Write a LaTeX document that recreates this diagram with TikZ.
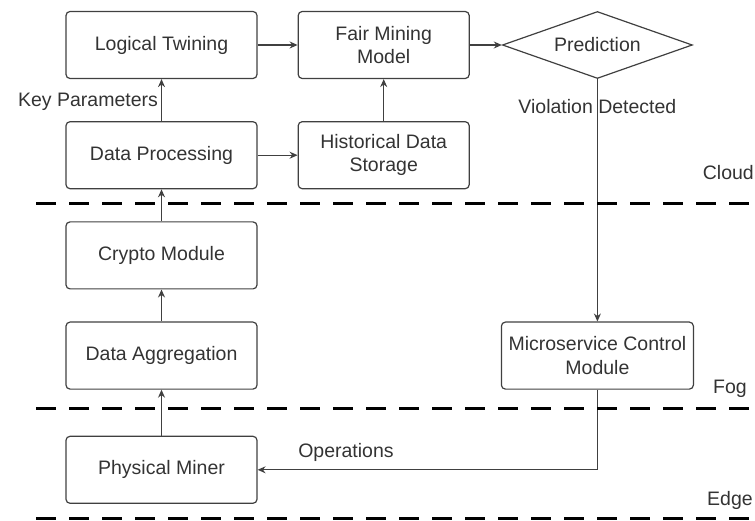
\documentclass[tikz,border=0pt]{standalone}
\usepackage{fontspec}
\setmainfont{Liberation Sans}
\usetikzlibrary{arrows.meta,positioning,shapes.geometric}

\begin{document}
\begin{tikzpicture}[
      x=1pt, y=1pt,
      font=\fontsize{19.5}{23.5}\selectfont,
      text=black!80,
      box/.style={draw=black!75, line width=1.2pt, rounded corners=4pt, align=center, inner sep=2pt, minimum height=67pt, minimum width=191pt},
      midbox/.style={box, minimum width=171pt},
      decision/.style={draw=black!75, line width=1.2pt, diamond, aspect=2.836, inner sep=0pt, minimum width=190pt, minimum height=67pt},
      arrow/.style={-{Stealth[length=8pt,width=7pt]}, draw=black!75, line width=1.2pt},
      layer/.style={line width=3pt, dash pattern=on 20pt off 13pt}
    ]
    \useasboundingbox (0,0) rectangle (755,-521);
    % cloud
    \node[box] (logic) at (161.5,-45) {Logical Twining};
    \node[box, below=42pt of logic] (proc) {Data Processing};
    \node[midbox, right=40pt of logic] (fair) {Fair Mining\\Model};
    \node[midbox, right=40pt of proc] (hist) {Historical Data\\Storage};
    \node[decision, right=32pt of fair] (pred) {Prediction};
    % fog
    \node[box, below=32pt of proc] (crypto) {Crypto Module};
    \node[box, below=32pt of crypto] (aggr) {Data Aggregation};
    \node[box, minimum width=192pt] (micro) at (pred |- aggr) {Microservice Control\\Module};
    % edge
    \node[box, below=46pt of aggr] (miner) {Physical Miner};

    \draw[arrow] (logic) -- (fair);
    \draw[arrow] (fair) -- (pred);
    \draw[arrow] (proc) -- (hist);
    \draw[arrow] (hist) -- (fair);
    \draw[arrow] (proc) -- node[left, inner sep=3pt, yshift=-2pt] {Key Parameters} (logic);
    \draw[arrow] (crypto) -- (proc);
    \draw[arrow] (aggr) -- (crypto);
    \draw[arrow] (miner) -- (aggr);
    \draw[arrow] (pred) -- node[pos=0.112] {Violation Detected} (micro);
    \draw[arrow] (micro) |- node[above, pos=0.87, inner sep=8pt] {Operations} (miner);

    % layer borders
    \foreach \y in {204,408,518}
      \draw[layer] (36,-\y) -- (755,-\y);
    \node[anchor=east, inner sep=1pt] (cloud) at (755,-173) {Cloud};
    \node (fog) at (730,-389) {Fog};
    \node (edgelbl) at (730,-500) {Edge};
  \end{tikzpicture}
\end{document}
